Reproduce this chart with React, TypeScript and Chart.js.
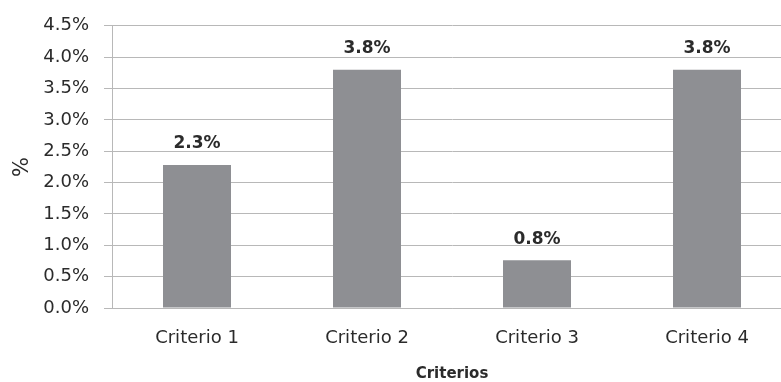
import React, { useEffect, useRef } from "react";
import { Chart, registerables } from "chart.js";

Chart.register(...registerables);

const categories = ["Criterio 1", "Criterio 2", "Criterio 3", "Criterio 4"];
const values = [2.28, 3.8, 0.76, 3.8];
const yMin = 0;
const yMax = 4.5;
const yStep = 0.5;
const xTitle = "Criterios";
const yTitle = "%";

const FONT = "'DejaVu Sans', sans-serif";
const TEXT = "#2b2b2b";
const BAR = "#8e8f93";
const GRID = "#b8b8b8";

const labelPlugin = {
  id: "barLabels",
  afterDatasetsDraw(chart: any) {
    const ctx = chart.ctx;
    const meta = chart.getDatasetMeta(0);
    ctx.save();
    ctx.font = `bold 17px ${FONT}`;
    ctx.fillStyle = TEXT;
    ctx.textAlign = "center";
    ctx.textBaseline = "middle";
    meta.data.forEach((el: any, i: number) => {
      const v = values[i];
      ctx.fillText(v.toFixed(1) + "%", el.x, el.y - 21);
    });
    ctx.restore();
  },
};

export default function App() {
  const ref = useRef<HTMLCanvasElement>(null);
  useEffect(() => {
    if (!ref.current) return;
    const chart = new Chart(ref.current, {
      type: "bar",
      data: {
        labels: categories,
        datasets: [
          {
            data: values,
            backgroundColor: BAR,
            borderWidth: 0,
            barPercentage: 0.4,
            categoryPercentage: 1,
          },
        ],
      },
      options: {
        animation: false,
        responsive: false,
        maintainAspectRatio: false,
        layout: { padding: { top: 25, right: 8, left: 0, bottom: 0 } },
        plugins: { legend: { display: false }, tooltip: { enabled: false } },
        scales: {
          x: {
            grid: { display: false, drawTicks: false },
            border: { display: true, color: GRID, width: 1 },
            ticks: { color: TEXT, font: { family: FONT, size: 18 }, padding: 20 },
            title: {
              display: true,
              text: xTitle,
              color: TEXT,
              font: { family: FONT, size: 15, weight: "bold" },
              padding: { top: 0, bottom: -1 },
            },
            afterFit: (s: any) => {
              s.height = 74;
            },
          },
          y: {
            min: yMin,
            max: yMax,
            grid: { color: GRID, lineWidth: 1, tickLength: 8 },
            border: { display: true, color: GRID, width: 1 },
            ticks: {
              stepSize: yStep,
              color: TEXT,
              font: { family: FONT, size: 18 },
              padding: 15,
              callback: (v: any) => Number(v).toFixed(1) + "%",
            },
            title: {
              display: true,
              text: yTitle,
              color: TEXT,
              font: { family: FONT, size: 21 },
              padding: { top: 10, bottom: 0 },
            },
            afterFit: (s: any) => {
              s.width = 112;
            },
          },
        },
      },
      plugins: [labelPlugin],
    });
    return () => chart.destroy();
  }, []);
  return (
    <div
      style={{
        position: "fixed",
        left: 0,
        top: 0,
        width: 781,
        height: 382,
        overflow: "hidden",
        background: "#fff",
      }}
    >
      <canvas ref={ref} width={800} height={382} style={{ display: "block" }} />
    </div>
  );
}
